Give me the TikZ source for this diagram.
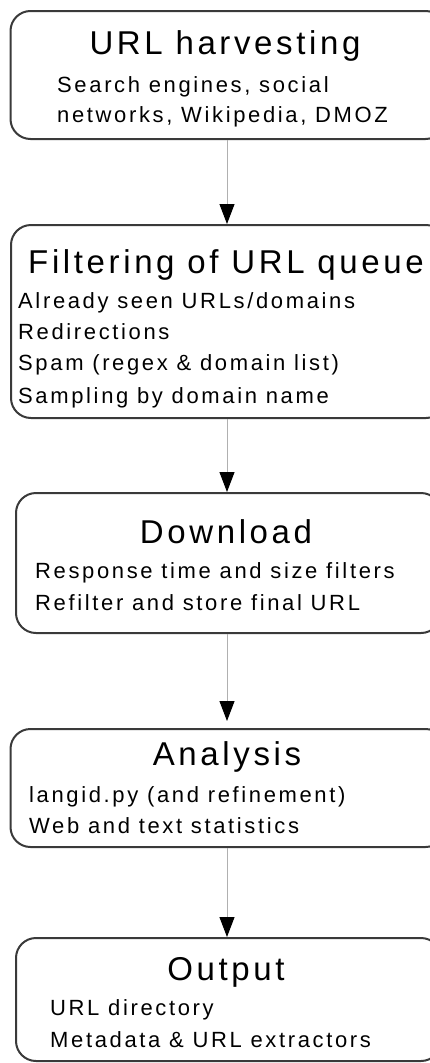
\documentclass[tikz,border=0pt]{standalone}
\usepackage{fontspec}
\setmainfont{Liberation Sans}
\newfontfamily\titlefont[LetterSpace=11]{Liberation Sans}
\newfontfamily\bodyfont[LetterSpace=12]{Liberation Sans}
\usetikzlibrary{arrows.meta}
\definecolor{boxgray}{HTML}{3A3A3A}
\definecolor{linegray}{HTML}{B0B0B0}
\begin{document}
\begin{tikzpicture}[x=1pt,y=-1pt,
  box/.style={draw=boxgray, line width=2pt, rounded corners=20pt, anchor=north west, inner sep=0pt, minimum width=#1},
  ttl/.style={anchor=base, inner sep=0pt, font=\titlefont\fontsize{33}{33}\selectfont},
  bdy/.style={anchor=base west, inner sep=0pt, font=\bodyfont\fontsize{22}{22}\selectfont},
  conn/.style={draw=linegray, line width=1pt, -{Triangle[length=20pt,width=15pt,color=black]}}]
\useasboundingbox (0,0) rectangle (430,1063);
\clip (0,0) rectangle (430,1063);
\coordinate (ax) at (227,0);
% boxes
\node[box=435pt, minimum height=128pt] (b1) at (9.5,10) {};
\node[box=435pt, minimum height=193pt] (b2) at (10,224) {};
\node[box=425pt, minimum height=140pt] (b3) at (15,492) {};
\node[box=435pt, minimum height=118pt] (b4) at (9.5,728) {};
\node[box=425pt, minimum height=123pt] (b5) at (15,937) {};
% texts
\node[ttl] (t1) at (225,54) {URL harvesting};
\node[bdy] (l11) at (57,92) {Search engines, social};
\node[bdy] (l12) at (57,122) {networks, Wikipedia, DMOZ};
\node[ttl] (t2) at (226,273) {Filtering of URL queue};
\node[bdy] (l21) at (18,308) {Already seen URLs/domains};
\node[bdy] (l22) at (18,339) {Redirections};
\node[bdy] (l23) at (18,370) {Spam (regex \& domain list)};
\node[bdy] (l24) at (18,403) {Sampling by domain name};
\node[ttl] (t3) at (226,543) {Download};
\node[bdy] (l31) at (35,578) {Response time and size filters};
\node[bdy] (l32) at (35,610) {Refilter and store final URL};
\node[ttl] (t4) at (227,765) {Analysis};
\node[bdy] (l41) at (29,802) {langid.py (and refinement)};
\node[bdy] (l42) at (29,833) {Web and text statistics};
\node[ttl] (t5) at (226,980) {Output};
\node[bdy] (l51) at (50,1015) {URL directory};
\node[bdy] (l52) at (50,1047) {Metadata \& URL extractors};
% connectors
\draw[conn] (b1.south -| ax) -- (b2.north -| ax);
\draw[conn] (b2.south -| ax) -- (b3.north -| ax);
\draw[conn, shorten >=7pt] (b3.south -| ax) -- (b4.north -| ax);
\draw[conn] (b4.south -| ax) -- (b5.north -| ax);
\end{tikzpicture}
\end{document}
